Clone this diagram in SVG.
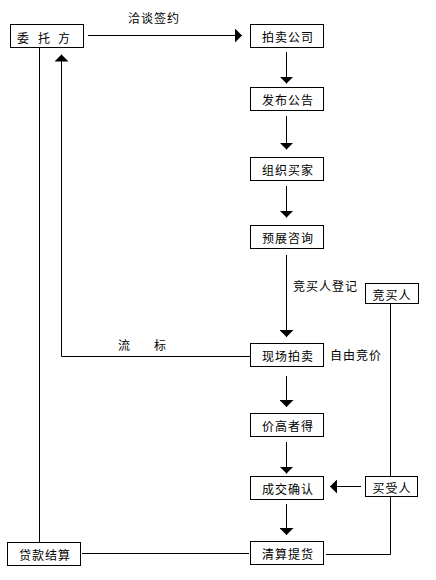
<svg xmlns="http://www.w3.org/2000/svg" width="436" height="580" viewBox="0 0 436 580">
<style>
.box{fill:#fff;stroke:#000;stroke-width:1}
.t{font-family:"Noto Sans CJK SC","Liberation Sans",sans-serif;font-size:12px;fill:#000;letter-spacing:1px}
.c{text-anchor:middle;dominant-baseline:central}
.ln{fill:none;stroke:#000;stroke-width:1}
.ar{marker-end:url(#ah)}
</style>
<defs>
<marker id="ah" markerUnits="userSpaceOnUse" viewBox="0 0 7 14" refX="7" refY="7" markerWidth="7" markerHeight="14" orient="auto">
<path d="M0,0 L7,7 L0,14 z" fill="#000"/>
</marker>
</defs>
<rect width="436" height="580" fill="#fff"/>
<g id="connectors">
<path class="ln ar" d="M88,35.5 H242"/>
<path class="ln ar" d="M286.5,52 V83.5"/>
<path class="ln ar" d="M286.5,116 V149.5"/>
<path class="ln ar" d="M286.5,186 V217.5"/>
<path class="ln ar" d="M286.5,255 V337"/>
<path class="ln ar" d="M286.5,376 V407"/>
<path class="ln ar" d="M286.5,442 V473.5"/>
<path class="ln ar" d="M286.5,504 V535"/>
<path class="ln ar" d="M250,356.5 H61.5 V54.5"/>
<path class="ln" d="M39.5,47.5 V542.5"/>
<path class="ln" d="M249,553.5 H82"/>
<path class="ln" d="M390.5,303.5 V476.5"/>
<path class="ln ar" d="M361,486.5 H330"/>
<path class="ln" d="M390.5,497 V554.5 H326"/>
<text class="t" x="154" y="23" text-anchor="middle">洽谈签约</text>
<text class="t" x="293" y="291">竞买人登记</text>
<text class="t" x="118" y="350">流</text>
<text class="t" x="154" y="350">标</text>
<text class="t" x="330" y="360">自由竞价</text>
</g>
<g id="weituofang">
<rect class="box" x="10.5" y="24.5" width="73" height="23"/>
<text class="t" y="36.5" dominant-baseline="central"><tspan x="17">委</tspan><tspan x="38">托</tspan><tspan x="58">方</tspan></text>
</g>
<g id="paimaigongsi">
<rect class="box" x="250.5" y="24.5" width="73" height="23"/>
<text class="t c" x="288" y="36.5">拍卖公司</text>
</g>
<g id="fabugonggao">
<rect class="box" x="250.5" y="87.5" width="73" height="23"/>
<text class="t c" x="288" y="99.5">发布公告</text>
</g>
<g id="zuzhimaijia">
<rect class="box" x="250.5" y="157.5" width="73" height="23"/>
<text class="t c" x="288" y="169.5">组织买家</text>
</g>
<g id="yuzhanzixun">
<rect class="box" x="250.5" y="225.5" width="73" height="23"/>
<text class="t c" x="288" y="237.5">预展咨询</text>
</g>
<g id="jingmairen">
<rect class="box" x="365.5" y="283.5" width="53" height="20"/>
<text class="t c" x="392" y="294">竞买人</text>
</g>
<g id="xianchangpaimai">
<rect class="box" x="250.5" y="343.5" width="73" height="23"/>
<text class="t c" x="288" y="355.5">现场拍卖</text>
</g>
<g id="jiagaozhede">
<rect class="box" x="250.5" y="413.5" width="73" height="23"/>
<text class="t c" x="288" y="425.5">价高者得</text>
</g>
<g id="chengjiaoqueren">
<rect class="box" x="250.5" y="476.5" width="73" height="23"/>
<text class="t c" x="288" y="488.5">成交确认</text>
</g>
<g id="maishouren">
<rect class="box" x="365.5" y="476.5" width="52" height="20"/>
<text class="t c" x="392" y="487">买受人</text>
</g>
<g id="qingsuantihuo">
<rect class="box" x="250.5" y="541.5" width="73" height="23"/>
<text class="t c" x="288" y="553.5">清算提货</text>
</g>
<g id="daikuanjiesuan">
<rect class="box" x="7.5" y="542.5" width="73" height="23"/>
<text class="t c" x="45" y="554.5">贷款结算</text>
</g>
</svg>
